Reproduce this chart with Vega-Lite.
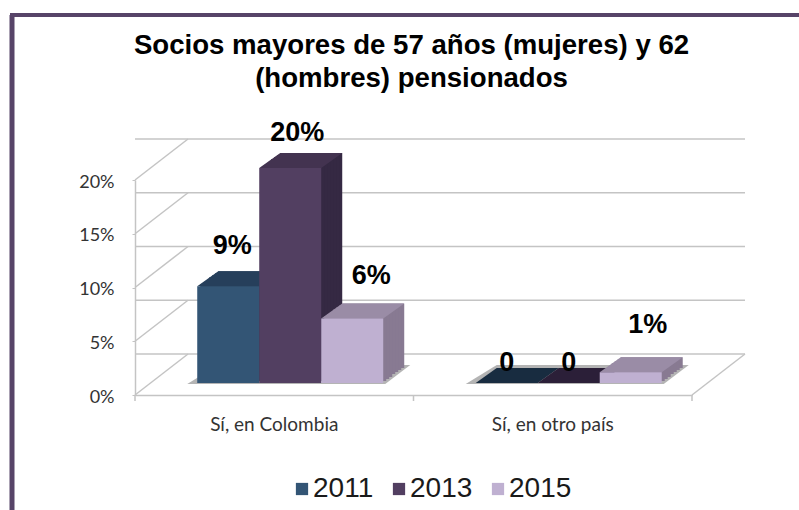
{
"$schema":"https://vega.github.io/schema/vega-lite/v6.json",
"width":557,"height":215,
"autosize":"none",
"padding":{"left":135,"top":180,"right":107,"bottom":115},
"background":"white",
"title":{"text":["Socios mayores de 57 años (mujeres) y 62","(hombres) pensionados"],"font":"Liberation Sans","fontSize":27.6,"fontWeight":"bold","color":"#000000","anchor":"middle","frame":"group","offset":-80,"lineHeight":33,"dx":-2},
"config":{"view":{"stroke":null},"font":"Lato"},
"datasets":{
"bars":[
{"categoria":"Sí, en Colombia","año":"2011","valor":0.09,"etiqueta":"9%"},
{"categoria":"Sí, en Colombia","año":"2013","valor":0.20,"etiqueta":"20%"},
{"categoria":"Sí, en Colombia","año":"2015","valor":0.06,"etiqueta":"6%"},
{"categoria":"Sí, en otro país","año":"2011","valor":0,"etiqueta":"0"},
{"categoria":"Sí, en otro país","año":"2013","valor":0,"etiqueta":"0"},
{"categoria":"Sí, en otro país","año":"2015","valor":0.01,"etiqueta":"1%"}
],
"ticks":[{"t":0},{"t":0.05},{"t":0.1},{"t":0.15},{"t":0.2}]
},
"data":{"name":"bars"},
"resolve":{"scale":{"color":"independent","xOffset":"independent"}},
"layer":[
{"data":{"name":"ticks"},"mark":{"type":"rule","color":"#c4c4c4","strokeWidth":1.5,"xOffset":53,"yOffset":-41},"encoding":{"y":{"field":"t","type":"quantitative","scale":{"domain":[0,0.2]},"axis":{"title":null,"values":[0,0.05,0.1,0.15,0.2],"format":".0%","grid":false,"domainColor":"#c4c4c4","domainWidth":1.5,"tickColor":"#c4c4c4","tickSize":3,"labelPadding":18,"labelFont":"Lato","labelFontSize":18,"labelColor":"#333333","labelOffset":2}}}},
{"data":{"name":"ticks"},"mark":{"type":"point","shape":"M0,0L53,-41","filled":false,"stroke":"#c4c4c4","strokeWidth":1.5,"size":4,"opacity":1},"encoding":{"x":{"value":0},"y":{"field":"t","type":"quantitative"}}},
{"data":{"values":[{"t":0}]},"mark":{"type":"point","shape":"M0,0L53,-41","filled":false,"stroke":"#c4c4c4","strokeWidth":1.5,"size":4,"opacity":1},"encoding":{"x":{"value":557},"y":{"field":"t","type":"quantitative"}}},
{"data":{"values":[{"t":0}]},"mark":{"type":"point","shape":"M0,0L0,6M278.5,0L278.5,6M557,0L557,6","filled":false,"stroke":"#c4c4c4","strokeWidth":1.5,"size":4,"opacity":1},"encoding":{"x":{"value":0},"y":{"field":"t","type":"quantitative"}}},
{"mark":{"type":"point","shape":"M-41,1L33,1L58,-18L-10,-18Z","filled":true,"fill":"#b4b4b4","strokeWidth":0,"size":4,"opacity":1,"yOffset":-12},"encoding":{"x":{"field":"categoria","type":"nominal","sort":null,"scale":{"paddingInner":0.332,"paddingOuter":0.166},"axis":{"title":null,"labelAngle":0,"ticks":false,"domainColor":"#c4c4c4","domainWidth":1.5,"labelPadding":20,"labelFont":"Lato","labelFontSize":19,"labelColor":"#333333"}},"xOffset":{"field":"año","type":"nominal","scale":{"range":[16,202]}},"y":{"datum":0,"type":"quantitative"}}},
{"mark":{"type":"bar","yOffset":-27,"y2Offset":-27},"encoding":{"x":{"field":"categoria","type":"nominal","sort":null},"xOffset":{"field":"año","type":"nominal","scale":{"range":[37,223]}},"y":{"field":"valor","type":"quantitative"},"color":{"field":"año","type":"nominal","legend":null,"scale":{"range":["#243d55","#352943","#887a92"]}}}},
{"mark":{"type":"bar","yOffset":-25,"y2Offset":-25},"encoding":{"x":{"field":"categoria","type":"nominal","sort":null},"xOffset":{"field":"año","type":"nominal","scale":{"range":[34,220]}},"y":{"field":"valor","type":"quantitative"},"color":{"field":"año","type":"nominal","legend":null,"scale":{"range":["#243d55","#352943","#887a92"]}}}},
{"mark":{"type":"bar","yOffset":-23,"y2Offset":-23},"encoding":{"x":{"field":"categoria","type":"nominal","sort":null},"xOffset":{"field":"año","type":"nominal","scale":{"range":[31,217]}},"y":{"field":"valor","type":"quantitative"},"color":{"field":"año","type":"nominal","legend":null,"scale":{"range":["#243d55","#352943","#887a92"]}}}},
{"mark":{"type":"bar","yOffset":-21,"y2Offset":-21},"encoding":{"x":{"field":"categoria","type":"nominal","sort":null},"xOffset":{"field":"año","type":"nominal","scale":{"range":[28,214]}},"y":{"field":"valor","type":"quantitative"},"color":{"field":"año","type":"nominal","legend":null,"scale":{"range":["#243d55","#352943","#887a92"]}}}},
{"mark":{"type":"bar","yOffset":-18,"y2Offset":-18},"encoding":{"x":{"field":"categoria","type":"nominal","sort":null},"xOffset":{"field":"año","type":"nominal","scale":{"range":[25,211]}},"y":{"field":"valor","type":"quantitative"},"color":{"field":"año","type":"nominal","legend":null,"scale":{"range":["#243d55","#352943","#887a92"]}}}},
{"mark":{"type":"bar","yOffset":-16,"y2Offset":-16},"encoding":{"x":{"field":"categoria","type":"nominal","sort":null},"xOffset":{"field":"año","type":"nominal","scale":{"range":[22,208]}},"y":{"field":"valor","type":"quantitative"},"color":{"field":"año","type":"nominal","legend":null,"scale":{"range":["#243d55","#352943","#887a92"]}}}},
{"mark":{"type":"bar","yOffset":-14,"y2Offset":-14},"encoding":{"x":{"field":"categoria","type":"nominal","sort":null},"xOffset":{"field":"año","type":"nominal","scale":{"range":[19,205]}},"y":{"field":"valor","type":"quantitative"},"color":{"field":"año","type":"nominal","legend":null,"scale":{"range":["#243d55","#352943","#887a92"]}}}},
{"mark":{"type":"point","shape":"M-31,0L31,0L52,-15L-10,-15Z","filled":true,"strokeWidth":0,"size":4,"opacity":1,"yOffset":-12},"encoding":{"x":{"field":"categoria","type":"nominal","sort":null},"xOffset":{"field":"año","type":"nominal","scale":{"range":[16,202]}},"y":{"field":"valor","type":"quantitative"},"color":{"condition":[{"test":"datum['valor']===0 && datum['año']==='2011'","value":"#182c40"},{"test":"datum['valor']===0 && datum['año']==='2013'","value":"#2b1f38"}],"field":"año","type":"nominal","legend":null,"scale":{"range":["#263f5b","#433350","#9a8ca6"]}}}},
{"mark":{"type":"bar","yOffset":-12,"y2Offset":-12},"encoding":{"x":{"field":"categoria","type":"nominal","sort":null},"xOffset":{"field":"año","type":"nominal","scale":{"range":[16,202]}},"y":{"field":"valor","type":"quantitative"},"color":{"field":"año","type":"nominal","scale":{"range":["#335575","#523f61","#bfb0d1"]},"legend":{"title":null,"orient":"none","legendX":153,"legendY":295,"direction":"horizontal","symbolType":"square","symbolSize":150,"symbolStrokeWidth":0,"labelFont":"Liberation Sans","labelFontSize":28,"labelColor":"#1a1a1a","labelOffset":-3,"columnPadding":11,"symbolOpacity":1}}}},
{"transform":[{"filter":"datum['valor']===0"}],"mark":{"type":"text","font":"Liberation Sans","fontSize":27,"fontWeight":"bold","color":"#000000","dx":16,"dy":-32,"baseline":"middle"},"encoding":{"x":{"field":"categoria","type":"nominal","sort":null},"xOffset":{"field":"año","type":"nominal","scale":{"domain":["2011","2013","2015"],"range":[0,186]}},"y":{"field":"valor","type":"quantitative"},"text":{"field":"etiqueta"}}},
{"transform":[{"filter":"datum['etiqueta']==='9%'"}],"mark":{"type":"text","font":"Liberation Sans","fontSize":27,"fontWeight":"bold","color":"#000000","dx":20,"dy":-52,"baseline":"middle"},"encoding":{"x":{"field":"categoria","type":"nominal","sort":null},"xOffset":{"datum":"2011","type":"nominal","scale":{"domain":["2011","2013","2015"],"range":[0,186]}},"y":{"field":"valor","type":"quantitative"},"text":{"field":"etiqueta"}}},
{"transform":[{"filter":"datum['etiqueta']==='20%'"}],"mark":{"type":"text","font":"Liberation Sans","fontSize":27,"fontWeight":"bold","color":"#000000","dx":23,"dy":-47,"baseline":"middle"},"encoding":{"x":{"field":"categoria","type":"nominal","sort":null},"xOffset":{"datum":"2013","type":"nominal","scale":{"domain":["2011","2013","2015"],"range":[0,186]}},"y":{"field":"valor","type":"quantitative"},"text":{"field":"etiqueta"}}},
{"transform":[{"filter":"datum['etiqueta']==='6%'"}],"mark":{"type":"text","font":"Liberation Sans","fontSize":27,"fontWeight":"bold","color":"#000000","dx":35,"dy":-55,"baseline":"middle"},"encoding":{"x":{"field":"categoria","type":"nominal","sort":null},"xOffset":{"datum":"2015","type":"nominal","scale":{"domain":["2011","2013","2015"],"range":[0,186]}},"y":{"field":"valor","type":"quantitative"},"text":{"field":"etiqueta"}}},
{"transform":[{"filter":"datum['etiqueta']==='1%'"}],"mark":{"type":"text","font":"Liberation Sans","fontSize":27,"fontWeight":"bold","color":"#000000","dx":33,"dy":-59,"baseline":"middle"},"encoding":{"x":{"field":"categoria","type":"nominal","sort":null},"xOffset":{"datum":"2015","type":"nominal","scale":{"domain":["2011","2013","2015"],"range":[0,186]}},"y":{"field":"valor","type":"quantitative"},"text":{"field":"etiqueta"}}},
{"data":{"values":[{"marco":"izquierda"}]},"mark":{"type":"rule","color":"#574468","strokeWidth":5,"clip":false},"encoding":{"x":{"value":-123},"y":{"value":-165},"y2":{"value":330}}},
{"data":{"values":[{"marco":"arriba"}]},"mark":{"type":"rule","color":"#574468","strokeWidth":4,"clip":false},"encoding":{"y":{"value":-165},"x":{"value":-125},"x2":{"value":664}}}
]
}
